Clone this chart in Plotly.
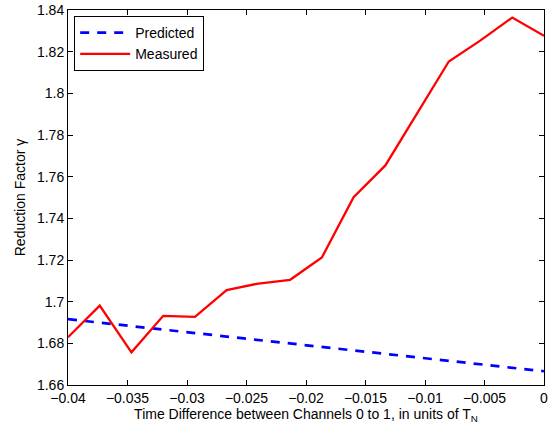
import plotly.graph_objects as go

x_vals = [-0.04, -0.037333, -0.034667, -0.032, -0.029333, -0.026667, -0.024, -0.021333,
          -0.018667, -0.016, -0.013333, -0.010667, -0.008, -0.005333, -0.002667, 0.0]
measured = [1.6829, 1.6981, 1.6757, 1.6932, 1.6927, 1.7056, 1.7087, 1.7105,
            1.7212, 1.7501, 1.7654, 1.7902, 1.8153, 1.8254, 1.8364, 1.8276]
predicted_x = [-0.04, 0.0]
predicted = [1.6916, 1.6666]

x_ticks = [-0.04, -0.035, -0.03, -0.025, -0.02, -0.015, -0.01, -0.005, 0]
y_ticks = [1.66, 1.68, 1.7, 1.72, 1.74, 1.76, 1.78, 1.8, 1.82, 1.84]

font = "Liberation Sans, Arial, sans-serif"

fig = go.Figure()
fig.add_trace(go.Scatter(x=predicted_x, y=predicted, mode="lines", name="Predicted",
                         line=dict(color="#0000ff", width=2.7, dash="9px,8px")))
fig.add_trace(go.Scatter(x=x_vals, y=measured, mode="lines", name="Measured",
                         line=dict(color="#ff0000", width=2.3)))

axis_common = dict(showgrid=False, zeroline=False, showline=True, linecolor="black",
                   linewidth=1, mirror="ticks", ticks="inside", ticklen=5,
                   tickcolor="black", automargin=False,
                   tickfont=dict(family=font, size=14, color="black"))

fig.update_layout(
    width=553, height=431,
    margin=dict(l=68, r=9, t=10, b=46),
    paper_bgcolor="white", plot_bgcolor="white",
    font=dict(family=font, size=14, color="black"),
    xaxis=dict(range=[-0.04, 0], tickvals=x_ticks,
               title=dict(text="Time Difference between Channels 0 to 1, in units of T<sub>N</sub>",
                          font=dict(family=font, size=14), standoff=4),
               **axis_common),
    yaxis=dict(range=[1.66, 1.84], tickvals=y_ticks,
               title=dict(text="Reduction Factor γ", font=dict(family=font, size=14), standoff=8),
               **axis_common),
    legend=dict(x=0.013, y=0.984, xanchor="left", yanchor="top",
                bgcolor="white", bordercolor="black", borderwidth=1,
                font=dict(family=font, size=14), tracegroupgap=0,
                itemwidth=50),
    showlegend=True,
)

fig.write_html("out.html")
